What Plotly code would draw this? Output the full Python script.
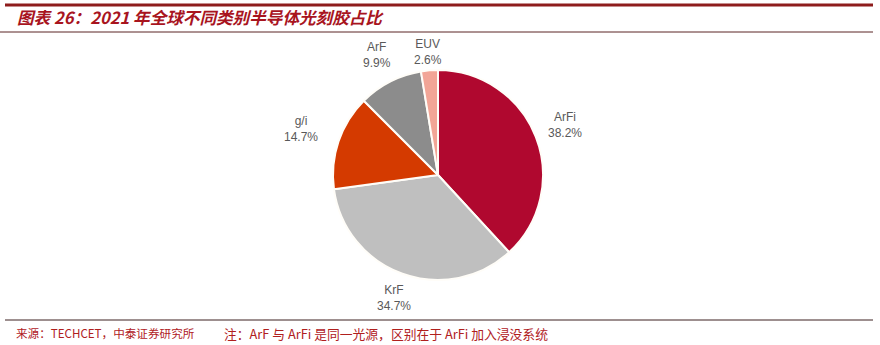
import math
import plotly.graph_objects as go

categories = ["ArFi", "KrF", "g/i", "ArF", "EUV"]
shares = [38.2, 34.7, 14.7, 9.9, 2.6]
colors = ["#B0082F", "#BFBFBF", "#D43A00", "#8C8C8C", "#F2A596"]

title_text = "图表 26：2021 年全球不同类别半导体光刻胶占比"
source_text = "来源：TECHCET，中泰证券研究所"
note_text = "注：ArF 与 ArFi 是同一光源，区别在于 ArFi 加入浸没系统"

W, H = 880, 345
cx, cy, r = 438, 175, 105  # pie geometry in pixels (top-down)

fig = go.Figure()
fig.add_trace(go.Pie(
    labels=categories, values=shares, sort=False, direction="clockwise",
    rotation=0, marker=dict(colors=colors, line=dict(color="#FFFDF8", width=2)),
    textinfo="none", hoverinfo="label+percent", showlegend=False,
    domain=dict(x=[(cx - r) / W, (cx + r) / W], y=[1 - (cy + r) / H, 1 - (cy - r) / H]),
))

label_factor = [1.30, 1.24, 1.38, 1.28, 1.18]
total = sum(shares)
cum = 0.0
for name, v, f in zip(categories, shares, label_factor):
    mid = (cum + v / 2) / total * 2 * math.pi
    cum += v
    px = cx + f * r * math.sin(mid)
    py = cy - f * r * math.cos(mid)
    fig.add_annotation(
        x=px / W, y=1 - py / H, xref="paper", yref="paper",
        text=f"{name}<br>{v:.1f}%", showarrow=False,
        font=dict(family="Liberation Sans, Arial", size=12, color="#595959"),
        xanchor="center", yanchor="middle", align="center",
    )

fig.add_annotation(
    x=15 / W, y=1 - 17 / H, xref="paper", yref="paper", xanchor="left", yanchor="middle",
    text=f"<b><i>{title_text}</i></b>", showarrow=False,
    font=dict(family="Noto Sans CJK SC", size=16.6, color="#A8141E"),
)
fig.add_annotation(
    x=14 / W, y=1 - 333 / H, xref="paper", yref="paper", xanchor="left", yanchor="middle",
    text=source_text, showarrow=False,
    font=dict(family="Noto Sans CJK SC", size=11.6, color="#B0201E"),
)
fig.add_annotation(
    x=222 / W, y=1 - 333 / H, xref="paper", yref="paper", xanchor="left", yanchor="middle",
    text=note_text, showarrow=False,
    font=dict(family="Noto Sans CJK SC", size=12.8, color="#B0201E"),
)

shapes = [
    dict(type="line", x0=5 / W, x1=873 / W, y0=1 - 5 / H, y1=1 - 5 / H, line=dict(color="#8E1C1C", width=3)),
    dict(type="line", x0=0, x1=873 / W, y0=1 - 32 / H, y1=1 - 32 / H, line=dict(color="#5A2424", width=1)),
    dict(type="line", x0=5 / W, x1=873 / W, y0=1 - 320 / H, y1=1 - 320 / H, line=dict(color="#3D2020", width=1)),
]
for s in shapes:
    s.update(xref="paper", yref="paper")
fig.update_layout(
    width=W, height=H, margin=dict(l=0, r=0, t=0, b=0),
    paper_bgcolor="#FFFFFF", plot_bgcolor="#FFFFFF", shapes=shapes,
)
fig.write_html("out.html")
